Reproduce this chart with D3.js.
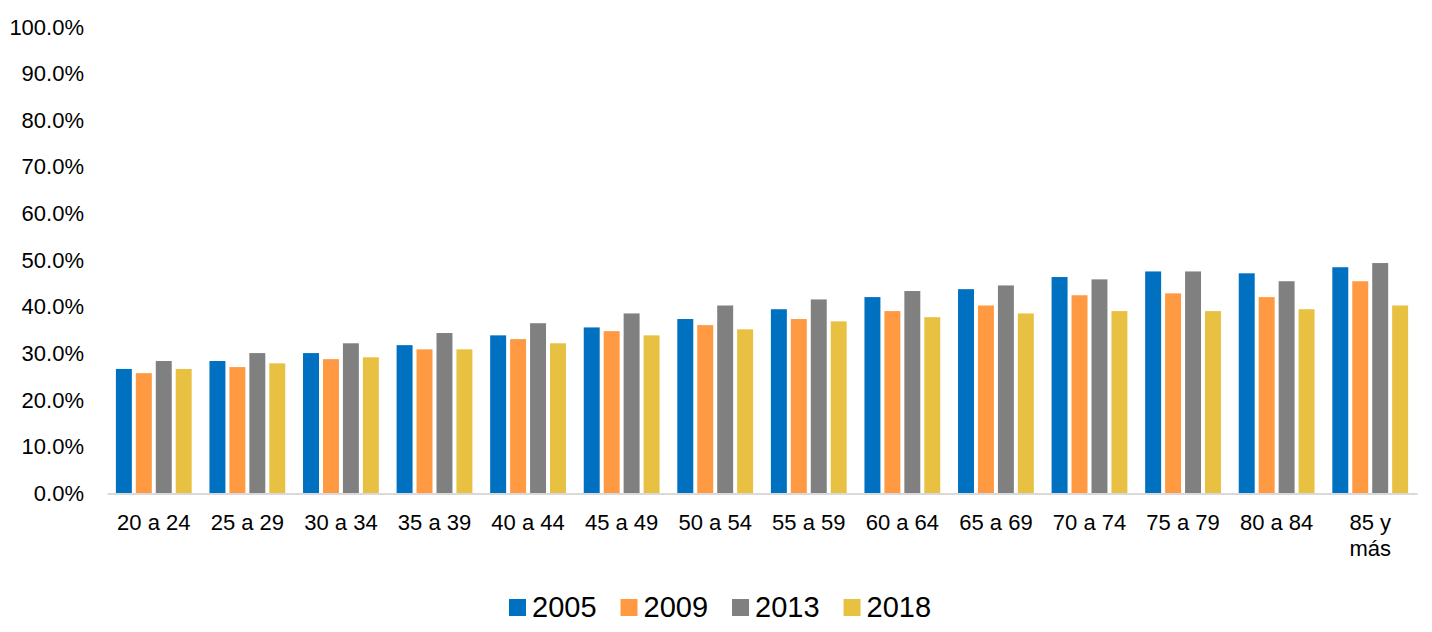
<!DOCTYPE html>
<html>
<head>
<meta charset="utf-8">
<script src="https://cdn.jsdelivr.net/npm/d3@7"></script>
<style>
  html, body { margin: 0; padding: 0; background: #fff; }
  svg { display: block; font-family: Arial, "Liberation Sans", Helvetica, sans-serif; }
</style>
</head>
<body>
<svg id="chart" width="1432" height="632"></svg>
<script>
const categories = ["20 a 24","25 a 29","30 a 34","35 a 39","40 a 44","45 a 49","50 a 54","55 a 59","60 a 64","65 a 69","70 a 74","75 a 79","80 a 84","85 y más"];
const seriesNames = ["2005","2009","2013","2018"];
const s2005 = [26.7, 28.4, 30.1, 31.8, 33.9, 35.6, 37.4, 39.5, 42.1, 43.8, 46.4, 47.6, 47.2, 48.5];
const s2009 = [25.8, 27.1, 28.8, 30.9, 33.1, 34.8, 36.1, 37.4, 39.1, 40.3, 42.5, 42.9, 42.1, 45.5];
const s2013 = [28.4, 30.1, 32.2, 34.4, 36.5, 38.6, 40.3, 41.6, 43.4, 44.6, 45.9, 47.6, 45.5, 49.4];
const s2018 = [26.7, 27.9, 29.2, 30.9, 32.2, 33.9, 35.2, 36.9, 37.8, 38.6, 39.1, 39.1, 39.5, 40.3];
const yTicks = [0,10,20,30,40,50,60,70,80,90,100];
const colors = ["#0070c0", "#ff9a42", "#808080", "#e8c142"];

const seriesValues = [s2005, s2009, s2013, s2018];
const svg = d3.select("#chart");

const x0 = d3.scaleBand().domain(categories).range([107, 1417]).paddingInner(0.19).paddingOuter(0.095);
const x1 = d3.scaleBand().domain(seriesNames).range([0, x0.bandwidth()]).paddingInner(0.2);
const y = d3.scaleLinear().domain([0, 100]).range([493.5, 27]);

// y axis labels
const yAxis = d3.axisLeft(y).tickValues(yTicks).tickSize(0).tickPadding(0)
  .tickFormat(d => d.toFixed(1) + "%");
const gy = svg.append("g").attr("transform", "translate(84,0)").call(yAxis);
gy.select(".domain").remove();
gy.selectAll("text").attr("font-size", "22px").attr("fill", "#000")
  .attr("font-family", "Arial, 'Liberation Sans', sans-serif");

// bars
const groups = svg.append("g").selectAll("g")
  .data(categories.map((c, i) => ({c, i})))
  .join("g")
  .attr("transform", d => `translate(${x0(d.c)},0)`);

groups.selectAll("rect")
  .data(d => seriesNames.map((s, k) => ({s, k, v: seriesValues[k][d.i]})))
  .join("rect")
  .attr("x", d => x1(d.s))
  .attr("width", x1.bandwidth())
  .attr("y", d => y(d.v))
  .attr("height", d => y(0) - y(d.v))
  .attr("fill", d => colors[d.k]);

// x axis
const xAxis = d3.axisBottom(x0).tickSize(0).tickPadding(0);
const gx = svg.append("g").attr("transform", `translate(0,${y(0)})`).call(xAxis);
gx.select(".domain").attr("stroke", "#d9d9d9").attr("stroke-width", 2);
gx.selectAll(".tick text").each(function(d) {
  const t = d3.select(this);
  t.text(null).attr("y", null).attr("dy", null)
    .attr("font-size", "22px").attr("fill", "#000")
    .attr("font-family", "Arial, 'Liberation Sans', sans-serif");
  const lines = d === "85 y más" ? ["85 y", "más"] : [d];
  lines.forEach((ln, j) => {
    t.append("tspan").attr("x", 0).attr("y", 36 + j * 26).text(ln);
  });
});

// legend
const legend = svg.append("g");
let lx = 509;
seriesNames.forEach((s, k) => {
  legend.append("rect").attr("x", lx).attr("y", 599).attr("width", 17).attr("height", 17).attr("fill", colors[k]);
  const t = legend.append("text").attr("x", lx + 23).attr("y", 617)
    .attr("font-size", "29px").attr("fill", "#000").text(s);
  lx += 23 + t.node().getComputedTextLength() + 24;
});
</script>
</body>
</html>
